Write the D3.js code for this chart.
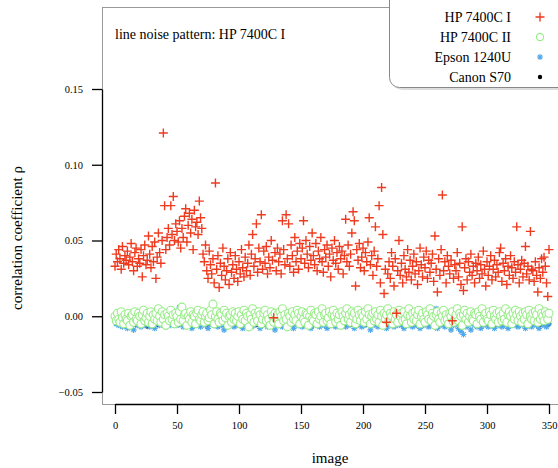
<!DOCTYPE html>
<html>
<head>
<meta charset="utf-8">
<script src="https://cdn.jsdelivr.net/npm/d3@7"></script>
<style>
  body { margin: 0; background: #fff; }
  svg { display: block; }
  text { font-family: "Liberation Serif", "Times New Roman", "DejaVu Serif", serif; }
</style>
</head>
<body>
<svg id="chart" width="558" height="468"></svg>
<script>
// series names, legend order
const seriesNames = ["HP 7400C I", "HP 7400C II", "Epson 1240U", "Canon S70"];
const xTicks = [0, 50, 100, 150, 200, 250, 300, 350];
const yTicks = [-0.05, 0.00, 0.05, 0.10, 0.15];

// correlation per image, index = image number
const hp1 = [
  .033,.041,.036,.044,.038,.031,.046,.035,.040,.037,
  .043,.034,.039,.048,.036,.030,.042,.045,.033,.038,
  .035,.044,.026,.040,.047,.034,.037,.053,.041,.032,
  .046,.036,.049,.025,.039,.055,.042,.035,.050,.121,
  .073,.044,.052,.058,.047,.073,.054,.079,.050,.061,
  .056,.049,.063,.045,.058,.052,.066,.071,.049,.060,
  .068,.055,.064,.044,.070,.059,.062,.054,.076,.065,
  .058,.041,.036,.047,.030,.025,.043,.034,.028,.038,
  .022,.088,.031,.040,.019,.035,.027,.045,.033,.024,
  .030,.038,.021,.042,.029,.034,.025,.040,.031,.023,
  .036,.028,.044,.032,.026,.039,.030,.035,.047,.027,
  .041,.054,.033,.038,.061,.029,.045,.036,.067,.031,
  .043,.035,.046,.028,.039,.032,.050,.037,-.001,.042,
  .030,.045,.036,.041,.028,.063,.044,.034,.067,.038,
  .061,.033,.047,.040,.029,.052,.036,.043,.031,.048,
  .038,.045,.063,.035,.050,.041,.032,.046,.037,.055,
  .040,.034,.048,.030,.043,.038,.052,.036,.029,.044,
  .039,.047,.033,.041,.026,.045,.037,.050,.035,.042,
  .031,.046,.038,.043,.028,.040,.064,.036,.047,.033,
  .041,.055,.069,.063,.020,.044,.037,.048,.032,.039,
  .045,.030,.042,.036,.049,.065,.034,.040,.027,.043,
  .059,.033,.038,.073,.022,.085,.054,.015,.031,-.004,
  .028,.036,.025,.042,.033,.020,.038,.002,.030,.050,
  .027,.035,.022,.040,.031,.026,.044,.029,.037,.024,
  .033,.041,.028,.036,.021,.030,.045,.034,.026,.039,
  .032,.043,.025,.037,.029,.035,.041,.023,.053,.031,
  .016,.038,.027,.044,.080,.030,.036,.022,.040,.033,
  .028,.037,-.003,.025,.034,.030,.042,.026,.035,.021,
  .059,.017,.032,.038,.024,.036,.029,.041,.027,.033,
  .022,.035,.030,.039,.025,.034,.028,.043,.031,.020,
  .036,.027,.033,.040,.024,.031,.037,.026,.034,.029,
  .042,.045,.023,.035,.030,.038,.021,.033,.027,.040,
  .032,.025,.036,.029,.059,.034,.022,.031,.037,.026,
  .035,.046,.028,.033,.024,.056,.031,.030,.023,.036,
  .027,.016,.032,.025,.038,.029,.039,.033,.022,.013,
  .044
];
const hp2 = [
  .000,-.003,.002,-.002,-.004,.003,-.001,-.005,.001,-.002,
  -.003,.002,-.006,.000,.001,-.004,.003,-.002,-.003,.002,
  .000,-.005,.001,.004,-.003,-.001,.002,-.004,.000,.003,
  -.005,.001,-.002,.002,-.003,.005,.000,-.004,.003,-.002,
  .001,-.006,.002,.000,-.003,.004,-.002,.001,-.005,.002,
  .000,-.004,.003,-.002,.006,-.003,.001,.002,-.006,.000,
  -.002,.003,-.004,.001,.000,-.005,.002,.004,-.002,-.003,
  .001,.003,-.004,.000,.002,-.003,-.001,.004,.001,.008,
  -.005,.000,.003,-.002,-.004,.002,.001,-.003,.004,-.001,
  .002,-.006,.000,.001,-.004,.003,-.002,.002,-.003,.000,
  .003,-.005,.001,-.002,.004,-.003,.002,.000,-.007,.001,
  -.002,.005,-.004,.002,.000,-.003,.003,.001,-.005,-.002,
  .002,.004,-.003,.001,-.002,-.006,.003,.000,-.004,.002,
  -.002,.001,-.005,.003,.000,.005,-.003,.001,-.002,-.007,
  .002,.000,-.004,.003,-.002,.001,-.003,.004,.002,-.005,
  .000,.003,-.002,-.004,.002,.001,-.006,.000,.004,-.002,
  -.003,.002,.001,-.005,.003,-.002,.000,.005,-.004,.001,
  .002,-.003,-.001,.003,-.005,.001,.004,.000,-.004,.002,
  -.002,.001,-.006,.003,.000,-.003,.002,.005,-.002,.001,
  -.004,.003,.000,.002,-.005,-.002,.004,.001,-.003,.002,
  .000,-.004,.003,-.002,.005,.001,-.005,.000,.002,-.003,
  .003,-.002,.001,-.004,.004,.000,-.006,.002,-.002,.001,
  .005,-.003,.002,.000,-.005,.003,-.002,.001,-.004,.004,
  .000,.002,-.003,.003,-.002,-.005,.001,.005,.000,-.004,
  .002,-.002,.003,-.003,.001,.004,-.005,.000,.002,-.002,
  -.004,.003,.001,-.002,.005,-.003,.002,.000,-.006,.001,
  .003,-.002,-.004,.002,.000,.004,-.003,.001,-.002,-.005,
  .002,.000,.003,-.004,-.002,.001,.005,-.003,.002,.000,
  -.006,.001,.004,-.002,.002,-.004,.000,.003,-.002,-.003,
  .002,.001,-.005,.003,.000,-.002,.005,-.004,.001,.002,
  -.002,-.003,.003,.001,-.005,.004,.000,-.002,.002,-.004,
  .003,.000,-.003,.002,-.002,.005,-.004,.001,.003,.000,
  -.005,.002,-.002,.004,.001,-.003,.003,.000,-.004,.002,
  -.002,.003,.001,-.005,.004,.000,-.002,.002,-.003,.003,
  .001,-.004,.005,-.002,.002,.000,-.003,.003,.001,-.002,
  .002
];
const epson = [
  -.003,-.005,-.002,-.006,-.004,-.001,-.007,-.003,-.005,-.002,
  -.008,-.004,-.006,-.003,-.005,-.009,-.002,-.004,-.006,-.003,
  -.005,-.007,-.001,-.004,-.006,-.003,-.005,-.002,-.007,-.004,
  -.006,-.003,-.008,-.005,-.002,-.004,-.006,-.001,-.005,-.003,
  -.004,-.007,-.002,-.005,-.003,-.006,-.004,-.002,-.005,-.003,
  -.006,-.004,.006,-.003,-.005,-.007,-.002,-.004,-.006,-.003,
  -.005,-.002,-.008,-.004,-.006,-.003,-.005,-.001,-.004,-.007,
  -.003,-.005,-.002,-.006,-.004,-.008,-.003,-.005,-.002,-.004,
  -.006,-.003,-.005,-.007,-.002,-.004,-.006,-.003,-.009,-.005,
  -.002,-.004,-.006,-.003,-.005,-.001,-.007,-.004,-.003,-.006,
  -.004,-.002,-.005,-.008,-.003,-.006,-.004,-.002,-.005,-.003,
  -.007,-.004,-.006,-.002,-.005,-.003,-.004,-.008,-.006,-.003,
  -.005,-.002,-.004,-.007,-.003,-.006,-.004,-.005,-.002,-.009,
  -.004,-.006,-.003,-.005,-.002,-.007,-.004,-.006,-.003,-.005,
  -.002,-.004,-.006,-.003,-.008,-.005,-.002,-.004,-.006,-.003,
  -.005,-.007,-.003,-.004,-.002,-.006,-.005,-.003,-.008,-.004,
  -.006,-.002,-.005,-.003,-.004,-.007,-.002,-.005,-.003,-.006,
  -.004,-.008,-.003,-.005,-.002,-.006,-.004,-.003,-.007,-.005,
  -.002,-.004,-.006,-.003,-.005,-.001,-.007,-.004,-.006,-.003,
  -.005,-.002,-.004,-.008,-.003,-.006,-.004,-.005,-.002,-.007,
  -.004,-.006,-.003,-.005,-.002,-.004,-.009,-.003,-.006,-.004,
  -.005,-.002,-.007,-.004,-.003,-.006,-.005,-.002,-.004,-.008,
  -.003,-.005,-.006,-.002,-.004,-.007,-.003,-.005,-.006,-.002,
  -.004,-.006,-.003,-.008,-.005,-.002,-.004,-.006,-.003,-.005,
  -.007,-.002,-.004,-.006,-.003,-.005,-.008,-.004,-.002,-.006,
  -.003,-.005,-.004,-.007,-.002,-.006,-.004,-.003,-.005,.005,
  -.008,-.004,-.006,-.002,-.005,-.003,-.007,-.004,-.006,-.003,
  -.005,-.009,-.004,-.006,-.002,-.005,-.003,-.008,-.004,-.010,
  -.006,-.012,-.005,-.007,-.003,-.006,-.004,-.009,-.005,-.003,
  -.006,-.004,-.007,-.002,-.005,-.008,-.003,-.006,-.004,-.005,
  -.002,-.007,-.004,-.006,-.003,-.005,-.008,-.004,-.002,-.006,
  -.005,-.003,-.007,-.004,-.006,-.002,-.005,-.008,-.003,-.006,
  -.004,-.002,-.006,-.005,-.003,-.007,-.004,-.006,-.002,-.005,
  -.003,-.008,-.005,-.004,-.006,-.002,-.007,-.004,-.005,-.003,
  -.006,-.004,-.008,-.003,-.005,-.002,-.006,-.004,-.007,-.003,
  -.005
];
const canon = [
  -.004,-.005,-.003,-.006,-.004,-.005,-.004,-.006,-.003,-.005,
  -.004,-.005,-.006,-.004,-.003,-.005,-.004,-.006,-.005,-.004,
  -.005,-.003,-.004,-.006,-.005,-.004,-.007,-.005,-.003,-.004,
  -.006,-.005,-.004,-.003,-.005,-.006,-.004,-.005,-.003,-.004,
  -.005,-.004,-.006,-.003,-.005,-.004,-.005,-.006,-.004,-.003,
  -.004,-.006,-.005,-.004,-.003,-.005,-.004,-.006,-.005,-.004,
  -.003,-.005,-.004,-.006,-.005,-.003,-.004,-.005,-.006,-.004,
  -.005,-.004,-.003,-.005,-.006,-.004,-.005,-.003,-.004,-.006,
  -.005,-.004,-.005,-.003,-.006,-.004,-.005,-.004,-.006,-.003,
  -.004,-.005,-.006,-.004,-.005,-.003,-.004,-.006,-.005,-.004,
  -.005,-.003,-.004,-.006,-.005,-.004,-.003,-.005,-.004,-.006,
  -.004,-.005,-.003,-.004,-.006,-.005,-.004,-.005,-.003,-.004,
  -.006,-.004,-.005,-.003,-.004,-.005,-.006,-.004,-.005,-.003,
  -.004,-.006,-.005,-.004,-.003,-.005,-.004,-.006,-.005,-.004,
  -.003,-.005,-.004,-.006,-.004,-.005,-.003,-.004,-.006,-.005,
  -.004,-.005,-.003,-.006,-.004,-.005,-.004,-.003,-.005,-.006,
  -.004,-.005,-.006,-.004,-.003,-.005,-.004,-.005,-.006,-.004,
  -.005,-.003,-.004,-.006,-.005,-.004,-.005,-.003,-.004,-.006,
  -.005,-.004,-.003,-.005,-.006,-.004,-.005,-.004,-.003,-.005,
  -.006,-.004,-.005,-.003,-.004,-.006,-.005,-.004,-.005,-.003,
  -.004,-.005,-.006,-.004,-.005,-.003,-.004,-.006,-.005,-.004,
  -.003,-.005,-.004,-.006,-.005,-.004,-.003,-.005,-.004,-.006,
  -.005,-.004,-.005,-.003,-.006,-.004,-.005,-.004,-.003,-.005,
  -.004,-.006,-.005,-.004,-.003,-.005,-.006,-.004,-.005,-.004,
  -.003,-.005,-.004,-.006,-.005,-.004,-.005,-.003,-.004,-.006,
  -.005,-.004,-.003,-.005,-.006,-.004,-.005,-.004,-.006,-.003,
  -.004,-.005,-.006,-.004,-.005,-.003,-.004,-.005,-.006,-.004,
  -.005,-.003,-.004,-.006,-.005,-.004,-.003,-.005,-.004,-.006,
  -.005,-.004,-.005,-.003,-.006,-.004,-.005,-.004,-.003,-.005,
  -.006,-.004,-.005,-.003,-.004,-.006,-.005,-.004,-.005,-.003,
  -.004,-.005,-.006,-.004,-.005,-.003,-.004,-.006,-.005,-.004,
  -.003,-.005,-.004,-.006,-.005,-.004,-.003,-.005,-.004,-.006,
  -.005,-.004,-.005,-.003,-.006,-.004,-.005,-.004,-.003,-.005,
  -.004,-.006,-.005,-.004,-.003,-.005,-.006,-.004,-.005,-.004,
  -.003,-.005,-.004,-.006,-.005,-.004,-.005,-.003,-.004,-.006,
  -.005
];

const svg = d3.select("#chart");
const serif = "'Liberation Serif', 'Times New Roman', 'DejaVu Serif', serif";

const x = d3.scaleLinear().domain([0, 350]).range([115, 549]);
const y = d3.scaleLinear().domain([-0.05, 0.15]).range([392, 89]);

// plot frame (grey, open to the right)
svg.append("rect")
  .attr("x", 102.5).attr("y", 7.5)
  .attr("width", 470).attr("height", 397)
  .attr("fill", "none").attr("stroke", "#999").attr("stroke-width", 1);

// axes
const xAxis = svg.append("g")
  .attr("transform", "translate(0,404)")
  .call(d3.axisBottom(x).tickValues(xTicks).tickSize(10).tickSizeOuter(0).tickPadding(8));
const yAxis = svg.append("g")
  .attr("transform", "translate(102,0)")
  .call(d3.axisLeft(y).tickValues(yTicks).tickSize(10).tickSizeOuter(0).tickPadding(9)
    .tickFormat(d3.format(".2f")));
[xAxis, yAxis].forEach(g => {
  g.attr("font-family", serif);
  g.select(".domain").attr("stroke", "#000").attr("stroke-width", 1.3);
  g.selectAll(".tick line").attr("stroke", "#000").attr("stroke-width", 1.3);
  g.selectAll(".tick text").attr("fill", "#000")
    .style("font-family", serif).style("font-size", "10.5px");
});

// marker shapes
const plusPath = "M-4.5,0H4.5M0,-4.5V4.5";
const starPath = "M-3,0H3M0,-3V3M-2.2,-2.2L2.2,2.2M-2.2,2.2L2.2,-2.2";

const pts = arr => arr.map((v, i) => ({ i: i, v: v }));

// drawn bottom to top: Canon, Epson, HP II, HP I
svg.append("g").selectAll("circle")
  .data(pts(canon)).join("circle")
  .attr("cx", d => x(d.i)).attr("cy", d => y(d.v))
  .attr("r", 2).attr("fill", "#000");

svg.append("g").selectAll("path")
  .data(pts(epson)).join("path")
  .attr("transform", d => `translate(${x(d.i)},${y(d.v)})`)
  .attr("d", starPath)
  .attr("stroke", "#4fa8ec").attr("stroke-width", 1.1).attr("fill", "none");

svg.append("g").selectAll("circle")
  .data(pts(hp2)).join("circle")
  .attr("cx", d => x(d.i)).attr("cy", d => y(d.v))
  .attr("r", 4).attr("fill", "#fff")
  .attr("stroke", "#98ec88").attr("stroke-width", 1.1);

svg.append("g").selectAll("path")
  .data(pts(hp1)).join("path")
  .attr("transform", d => `translate(${x(d.i)},${y(d.v)})`)
  .attr("d", plusPath)
  .attr("stroke", "#ee3b1f").attr("stroke-width", 1.4).attr("fill", "none");

// panel title
svg.append("text")
  .attr("x", 115).attr("y", 39)
  .style("font-family", serif).style("font-size", "14px")
  .text("line noise pattern: HP 7400C I");

// axis titles
svg.append("text")
  .attr("x", 330).attr("y", 463)
  .attr("text-anchor", "middle")
  .style("font-family", serif).style("font-size", "15px")
  .text("image");
svg.append("text")
  .attr("transform", "translate(22,238) rotate(-90)")
  .attr("text-anchor", "middle")
  .style("font-family", serif).style("font-size", "15px")
  .text("correlation coefficient ρ");

// legend box, rounded, running off the top-right edge
const lg = svg.append("g");
lg.append("rect")
  .attr("x", 392).attr("y", -20).attr("width", 200).attr("height", 110)
  .attr("rx", 10).attr("fill", "#ddd");
lg.append("rect")
  .attr("x", 389.5).attr("y", -20).attr("width", 200).attr("height", 107.5)
  .attr("rx", 10).attr("fill", "#fff").attr("stroke", "#888").attr("stroke-width", 1);

const legendRows = [17, 37, 57, 77];
seriesNames.forEach((name, k) => {
  lg.append("text")
    .attr("x", 511).attr("y", legendRows[k] + 5)
    .attr("text-anchor", "end")
    .style("font-family", serif).style("font-size", "14px")
    .text(name);
  const mx = 540, my = legendRows[k];
  if (k === 0) {
    lg.append("path").attr("transform", `translate(${mx},${my})`).attr("d", plusPath)
      .attr("stroke", "#ee3b1f").attr("stroke-width", 1.4);
  } else if (k === 1) {
    lg.append("circle").attr("cx", mx).attr("cy", my).attr("r", 3.6)
      .attr("fill", "#fff").attr("stroke", "#98ec88").attr("stroke-width", 1.1);
  } else if (k === 2) {
    lg.append("path").attr("transform", `translate(${mx},${my})`).attr("d", starPath)
      .attr("stroke", "#4fa8ec").attr("stroke-width", 1.1);
  } else {
    lg.append("circle").attr("cx", mx).attr("cy", my).attr("r", 2.2).attr("fill", "#000");
  }
});
</script>
</body>
</html>
